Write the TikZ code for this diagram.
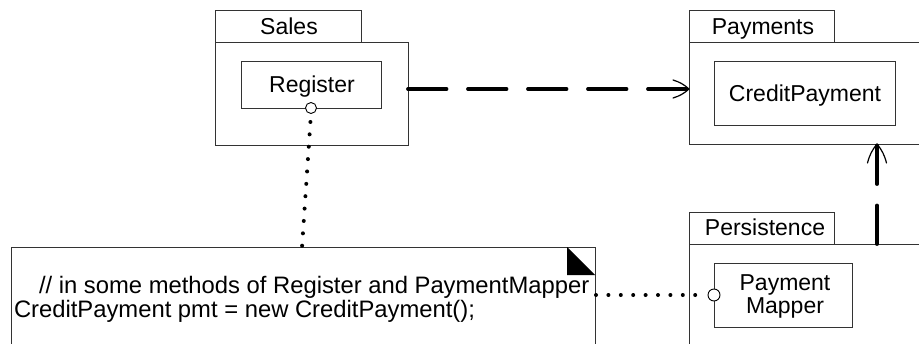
\documentclass[tikz,border=0pt]{standalone}
\usepackage{fontspec}
\setmainfont{Liberation Sans}
\usetikzlibrary{calc}
\begin{document}
\begin{tikzpicture}[x=1pt,y=-1pt,
  box/.style={draw=black!80, line width=1pt, inner sep=0pt, outer sep=0pt, rectangle, fill=white},
  lbl/.style={font=\fontsize{23}{27}\selectfont, inner sep=0pt, outer sep=0pt},
  notetxt/.style={font=\fontsize{23.8}{28}\selectfont, inner sep=0pt, outer sep=0pt},
  lolly/.style={circle, draw=black, line width=0.9pt, fill=white, inner sep=0pt, outer sep=0pt},
  dotline/.style={line width=4pt, line cap=round, dash pattern=on 0pt off 12.4pt},
  dashline/.style={line width=3.8pt, line cap=round, dash pattern=on 38.5pt off 21.5pt},
  barb/.style={line width=1.2pt, line cap=round, line join=round}
]
\useasboundingbox (0,0) rectangle (919,343);
\clip (0,0) rectangle (919,343);
\fill[white] (0,0) rectangle (919,343);

% Sales package
\node[box, minimum width=193pt, minimum height=103pt, anchor=north west] (salesbody) at (215,42) {};
\node[box, minimum width=146pt, minimum height=32pt, anchor=south west] (salestab) at (215,42) {};
\node[lbl, anchor=base] (salestxt) at (289,34) {Sales};
\node[box, minimum width=140pt, minimum height=47pt, anchor=north west] (register) at (241,61) {};
\node[lbl, anchor=base] (regtxt) at (312,92) {Register};

% Payments package
\node[box, minimum width=260pt, minimum height=102pt, anchor=north west] (paybody) at (689,42) {};
\node[box, minimum width=145pt, minimum height=32pt, anchor=south west] (paytab) at (689,42) {};
\node[lbl, anchor=base] (paytxt) at (763,34) {Payments};
\node[box, minimum width=181pt, minimum height=64pt, anchor=north west] (credit) at (714,61) {};
\node[lbl, anchor=base] (credittxt) at (805,101.5) {CreditPayment};

% Persistence package
\node[box, minimum width=260pt, minimum height=130pt, anchor=north west] (persbody) at (689,244) {};
\node[box, minimum width=145pt, minimum height=32pt, anchor=south west] (perstab) at (689,244) {};
\node[lbl, anchor=base] (perstxt) at (765,235) {Persistence};
\node[box, minimum width=138pt, minimum height=64pt, anchor=north west] (mapper) at (714,263) {};
\node[lbl, anchor=base] (maptxt1) at (785,290) {Payment};
\node[lbl, anchor=base] (maptxt2) at (785,313) {Mapper};

% Note
\node[box, minimum width=584pt, minimum height=130pt, anchor=north west] (note) at (11,247) {};
\fill[black] (note.north east) ++(-28,0) -- ++(0,28) -- ++(28,0) -- cycle;
\node[notetxt, anchor=base west] (note1) at (39,293) {// in some methods of Register and PaymentMapper};
\node[notetxt, anchor=base west] (note2) at (14,317) {CreditPayment pmt = new CreditPayment();};

% lollipops
\node[lolly, minimum size=11pt] (regc) at (311,108) {};
\node[lolly, minimum size=12pt] (mapc) at (714,295) {};
\coordinate (notetop) at (302,247);

% dotted attachments
\draw[dotline, dash phase=3.9pt] (regc.south) -- (notetop);
\draw[dotline, dash phase=11.4pt, shorten >=5pt] (note.east |- mapc) -- (mapc.west);

% dependency arrows
\coordinate (hs) at (408,89);
\coordinate (vx) at (877,0);
\draw[dashline] (hs) -- (paybody.west |- hs);
\draw[barb] ($(paybody.west |- hs)+(-16,-9)$) to[bend left=12] (paybody.west |- hs)
            to[bend left=12] ($(paybody.west |- hs)+(-16,9)$);
\draw[dashline] (persbody.north -| vx) -- (paybody.south -| vx);
\draw[barb] ($(paybody.south -| vx)+(-9.5,19)$) to[bend left=12] (paybody.south -| vx)
            to[bend left=12] ($(paybody.south -| vx)+(9.5,19)$);
\end{tikzpicture}
\end{document}
